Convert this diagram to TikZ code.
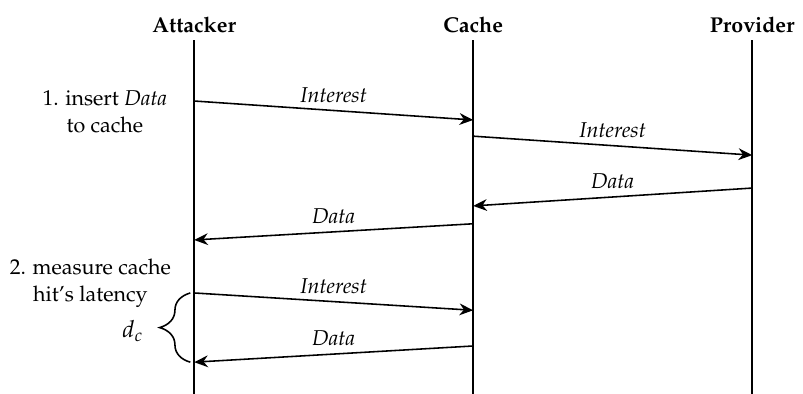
\documentclass[tikz,border=0pt,11pt]{standalone}
\usepackage[T1]{fontenc}
\usepackage{mathpazo}
\usepackage{tikz}
\usetikzlibrary{arrows.meta,decorations.pathreplacing}
\tikzset{>={Stealth[length=7pt,width=6pt]}}

\begin{document}
\begin{tikzpicture}[thick,
  actor/.style={font=\bfseries},
  lbl/.style={above,font=\itshape},
  note/.style={align=center}]
\useasboundingbox (-3.48,0) rectangle (10.91,-7.06);
% participants
\node[actor] (att) at (0,-0.45) {Attacker};
\node[actor] (cac) at (5,-0.45) {Cache};
\node[actor] (pro) at (10,-0.45) {Provider};
\coordinate (att-top) at (0,-0.72);
\coordinate (cac-top) at (5,-0.72);
\coordinate (pro-top) at (10,-0.72);
\coordinate (att-bot) at (0,-7.06);
\coordinate (cac-bot) at (5,-7.06);
\coordinate (pro-bot) at (10,-7.06);
\draw (att-top) -- (att-bot);
\draw (cac-top) -- (cac-bot);
\draw (pro-top) -- (pro-bot);
% message ends
\coordinate (a1) at (0,-1.81);
\coordinate (c1) at (5,-2.15);
\coordinate (c2) at (5,-2.44);
\coordinate (p2) at (10,-2.78);
\coordinate (p3) at (10,-3.37);
\coordinate (c3) at (5,-3.69);
\coordinate (c4) at (5,-4.01);
\coordinate (a4) at (0,-4.30);
\coordinate (a5) at (0,-5.25);
\coordinate (c5) at (5,-5.56);
\coordinate (c6) at (5,-6.20);
\coordinate (a6) at (0,-6.49);
% messages
\path[->] (a1) edge node[lbl] {Interest} (c1);
\path[->] (c2) edge node[lbl] {Interest} (p2);
\path[->] (p3) edge node[lbl] {Data} (c3);
\path[->] (c4) edge node[lbl] {Data} (a4);
\path[->] (a5) edge node[lbl] {Interest} (c5);
\path[->] (c6) edge node[lbl] {Data} (a6);
% steps
\node[note] (ins) at (-1.6,-2.0) {1. insert \emph{Data}\\ to cache};
\node[note] (mea) at (-1.86,-5.07) {2. measure cache\\ hit's latency};
\coordinate (br-top) at (-0.07,-5.25);
\coordinate (br-bot) at (-0.07,-6.49);
\draw[decorate,decoration={brace,amplitude=0.55cm}] (br-bot) -- (br-top);
\node (dc) at (-1.1,-5.93) {\large $d_c$};
\end{tikzpicture}
\end{document}
